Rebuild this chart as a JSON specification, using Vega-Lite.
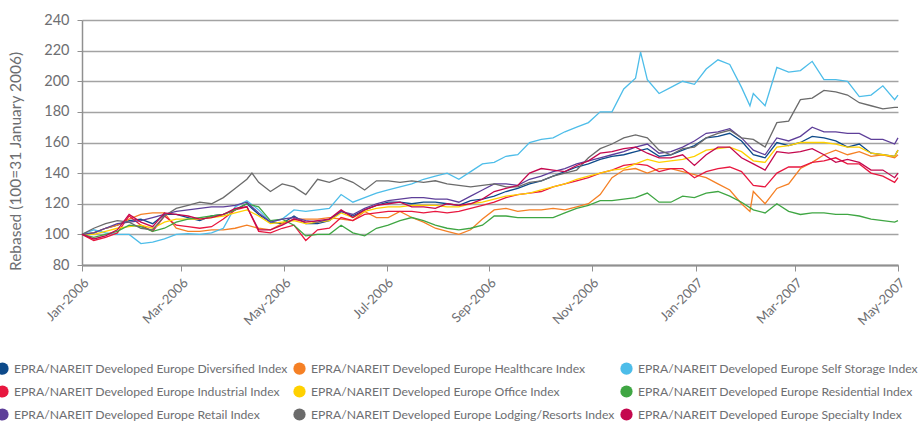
{
 "$schema": "https://vega.github.io/schema/vega-lite/v6.json",
 "width": 816, "height": 245,
 "autosize": {"type": "none"},
 "padding": {"left": 82, "top": 20, "right": 22, "bottom": 162},
 "background": "white",
 "config": {"view": {"stroke": null}, "font": "Lato"},
 "data": {"values": [
  {"d":"2006-01-31","Diversified":100,"Healthcare":100,"Self Storage":100,"Industrial":100,"Office":100,"Residential":100,"Retail":100,"Lodging/Resorts":100,"Specialty":100},
  {"d":"2006-02-07","Diversified":101,"Healthcare":101,"Self Storage":103,"Industrial":96,"Office":100,"Residential":98,"Retail":101,"Lodging/Resorts":104,"Specialty":97},
  {"d":"2006-02-14","Diversified":104,"Healthcare":104,"Self Storage":101,"Industrial":98,"Office":102,"Residential":100,"Retail":104,"Lodging/Resorts":107,"Specialty":99},
  {"d":"2006-02-21","Diversified":106,"Healthcare":106,"Self Storage":100,"Industrial":101,"Office":104,"Residential":102,"Retail":107,"Lodging/Resorts":109,"Specialty":103},
  {"d":"2006-02-28","Diversified":109,"Healthcare":110,"Self Storage":100,"Industrial":112,"Office":105,"Residential":106,"Retail":108,"Lodging/Resorts":108,"Specialty":113},
  {"d":"2006-03-07","Diversified":110,"Healthcare":113,"Self Storage":94,"Industrial":106,"Office":106,"Residential":105,"Retail":109,"Lodging/Resorts":104,"Specialty":108},
  {"d":"2006-03-14","Diversified":107,"Healthcare":114,"Self Storage":95,"Industrial":102,"Office":104,"Residential":102,"Retail":111,"Lodging/Resorts":103,"Specialty":105},
  {"d":"2006-03-21","Diversified":113,"Healthcare":114,"Self Storage":97,"Industrial":112,"Office":108,"Residential":104,"Retail":113,"Lodging/Resorts":112,"Specialty":114},
  {"d":"2006-03-28","Diversified":113,"Healthcare":104,"Self Storage":100,"Industrial":106,"Office":110,"Residential":108,"Retail":115,"Lodging/Resorts":117,"Specialty":113},
  {"d":"2006-04-04","Diversified":111,"Healthcare":102,"Self Storage":100.5,"Industrial":105,"Office":110,"Residential":110,"Retail":116,"Lodging/Resorts":119,"Specialty":112},
  {"d":"2006-04-11","Diversified":109,"Healthcare":102,"Self Storage":100,"Industrial":104,"Office":110,"Residential":111,"Retail":117,"Lodging/Resorts":121,"Specialty":110},
  {"d":"2006-04-18","Diversified":112,"Healthcare":103,"Self Storage":101,"Industrial":105,"Office":111,"Residential":112,"Retail":118,"Lodging/Resorts":120,"Specialty":111},
  {"d":"2006-04-25","Diversified":113,"Healthcare":103,"Self Storage":104,"Industrial":110,"Office":112,"Residential":113,"Retail":118,"Lodging/Resorts":124,"Specialty":113},
  {"d":"2006-05-02","Diversified":116,"Healthcare":104,"Self Storage":118,"Industrial":116,"Office":114,"Residential":116,"Retail":119,"Lodging/Resorts":130,"Specialty":117},
  {"d":"2006-05-09","Diversified":120,"Healthcare":106,"Self Storage":122,"Industrial":118,"Office":116,"Residential":120,"Retail":121,"Lodging/Resorts":136,"Specialty":118},
  {"d":"2006-05-12","Lodging/Resorts":140},
  {"d":"2006-05-16","Diversified":113,"Healthcare":104,"Self Storage":116,"Industrial":102,"Office":112,"Residential":118,"Retail":114,"Lodging/Resorts":134,"Specialty":103},
  {"d":"2006-05-23","Diversified":108,"Healthcare":103,"Self Storage":108,"Industrial":101,"Office":107,"Residential":109,"Retail":108,"Lodging/Resorts":128,"Specialty":103},
  {"d":"2006-05-30","Diversified":107,"Healthcare":107,"Self Storage":110,"Industrial":104,"Office":108,"Residential":110,"Retail":110,"Lodging/Resorts":133,"Specialty":106},
  {"d":"2006-06-06","Diversified":112,"Healthcare":110,"Self Storage":116,"Industrial":106,"Office":109,"Residential":106,"Retail":111,"Lodging/Resorts":131,"Specialty":110},
  {"d":"2006-06-13","Diversified":107,"Healthcare":110,"Self Storage":115,"Industrial":96,"Office":107,"Residential":99,"Retail":109,"Lodging/Resorts":126,"Specialty":108},
  {"d":"2006-06-20","Diversified":107,"Healthcare":110,"Self Storage":116,"Industrial":103,"Office":108,"Residential":100,"Retail":108,"Lodging/Resorts":136,"Specialty":109},
  {"d":"2006-06-27","Diversified":109,"Healthcare":111,"Self Storage":117,"Industrial":104,"Office":109,"Residential":100,"Retail":110,"Lodging/Resorts":134,"Specialty":110},
  {"d":"2006-07-04","Diversified":115,"Healthcare":110,"Self Storage":126,"Industrial":111,"Office":114,"Residential":106,"Retail":115,"Lodging/Resorts":137,"Specialty":116},
  {"d":"2006-07-11","Diversified":112,"Healthcare":109,"Self Storage":121,"Industrial":109,"Office":111,"Residential":101,"Retail":113,"Lodging/Resorts":134,"Specialty":111},
  {"d":"2006-07-18","Diversified":116,"Healthcare":115,"Self Storage":124,"Industrial":113,"Office":115,"Residential":99,"Retail":117,"Lodging/Resorts":129,"Specialty":116},
  {"d":"2006-07-25","Diversified":119,"Healthcare":111,"Self Storage":127,"Industrial":114,"Office":117,"Residential":104,"Retail":120,"Lodging/Resorts":135,"Specialty":119},
  {"d":"2006-08-01","Diversified":121,"Healthcare":111,"Self Storage":129,"Industrial":115,"Office":118,"Residential":106,"Retail":122,"Lodging/Resorts":135,"Specialty":120},
  {"d":"2006-08-08","Diversified":121,"Healthcare":115,"Self Storage":131,"Industrial":115,"Office":118,"Residential":109,"Retail":123,"Lodging/Resorts":134,"Specialty":121},
  {"d":"2006-08-15","Diversified":120,"Healthcare":111,"Self Storage":133,"Industrial":115,"Office":119,"Residential":111,"Retail":124,"Lodging/Resorts":135,"Specialty":118},
  {"d":"2006-08-22","Diversified":121,"Healthcare":108,"Self Storage":136,"Industrial":114,"Office":119,"Residential":109,"Retail":124,"Lodging/Resorts":134,"Specialty":118},
  {"d":"2006-08-29","Diversified":121,"Healthcare":104,"Self Storage":138,"Industrial":115,"Office":119,"Residential":106,"Retail":123,"Lodging/Resorts":135,"Specialty":117},
  {"d":"2006-09-05","Diversified":120,"Healthcare":102,"Self Storage":140,"Industrial":114,"Office":118,"Residential":104,"Retail":123,"Lodging/Resorts":133,"Specialty":120},
  {"d":"2006-09-12","Diversified":119,"Healthcare":100,"Self Storage":136,"Industrial":115,"Office":118,"Residential":103,"Retail":121,"Lodging/Resorts":132,"Specialty":119},
  {"d":"2006-09-19","Diversified":122,"Healthcare":103,"Self Storage":141,"Industrial":117,"Office":120,"Residential":104,"Retail":125,"Lodging/Resorts":131,"Specialty":120},
  {"d":"2006-09-26","Diversified":123,"Healthcare":110,"Self Storage":146,"Industrial":119,"Office":121,"Residential":106,"Retail":129,"Lodging/Resorts":132,"Specialty":123},
  {"d":"2006-10-03","Diversified":125,"Healthcare":116,"Self Storage":147,"Industrial":121,"Office":123,"Residential":112,"Retail":133,"Lodging/Resorts":133,"Specialty":128},
  {"d":"2006-10-10","Diversified":128,"Healthcare":117,"Self Storage":151,"Industrial":124,"Office":125,"Residential":112,"Retail":133,"Lodging/Resorts":131,"Specialty":130},
  {"d":"2006-10-17","Diversified":130,"Healthcare":115,"Self Storage":152,"Industrial":126,"Office":126,"Residential":111,"Retail":132,"Lodging/Resorts":131,"Specialty":132},
  {"d":"2006-10-24","Diversified":133,"Healthcare":116,"Self Storage":160,"Industrial":127,"Office":127,"Residential":111,"Retail":136,"Lodging/Resorts":134,"Specialty":140},
  {"d":"2006-10-31","Diversified":135,"Healthcare":116,"Self Storage":162,"Industrial":128,"Office":129,"Residential":111,"Retail":138,"Lodging/Resorts":135,"Specialty":143},
  {"d":"2006-11-07","Diversified":138,"Healthcare":117,"Self Storage":163,"Industrial":131,"Office":131,"Residential":111,"Retail":141,"Lodging/Resorts":138,"Specialty":142},
  {"d":"2006-11-14","Diversified":141,"Healthcare":116,"Self Storage":167,"Industrial":133,"Office":133,"Residential":114,"Retail":143,"Lodging/Resorts":140,"Specialty":141},
  {"d":"2006-11-21","Diversified":144,"Healthcare":118,"Self Storage":170,"Industrial":135,"Office":136,"Residential":117,"Retail":146,"Lodging/Resorts":142,"Specialty":145},
  {"d":"2006-11-28","Diversified":146,"Healthcare":120,"Self Storage":173,"Industrial":137,"Office":138,"Residential":119,"Retail":148,"Lodging/Resorts":150,"Specialty":148},
  {"d":"2006-12-05","Diversified":149,"Healthcare":126,"Self Storage":180,"Industrial":140,"Office":140,"Residential":122,"Retail":150,"Lodging/Resorts":156,"Specialty":153},
  {"d":"2006-12-12","Diversified":151,"Healthcare":137,"Self Storage":180,"Industrial":142,"Office":142,"Residential":122,"Retail":152,"Lodging/Resorts":159,"Specialty":154},
  {"d":"2006-12-19","Diversified":152,"Healthcare":142,"Self Storage":195,"Industrial":145,"Office":143,"Residential":123,"Retail":154,"Lodging/Resorts":163,"Specialty":156},
  {"d":"2006-12-26","Diversified":154,"Healthcare":143,"Self Storage":202,"Industrial":146,"Office":146,"Residential":124,"Retail":157,"Lodging/Resorts":165,"Specialty":157},
  {"d":"2006-12-29","Self Storage":219},
  {"d":"2007-01-02","Diversified":156,"Healthcare":140,"Self Storage":201,"Industrial":145,"Office":149,"Residential":127,"Retail":159,"Lodging/Resorts":163,"Specialty":153},
  {"d":"2007-01-09","Diversified":151,"Healthcare":143,"Self Storage":192,"Industrial":141,"Office":147,"Residential":121,"Retail":153,"Lodging/Resorts":155,"Specialty":150},
  {"d":"2007-01-16","Diversified":152,"Healthcare":143,"Self Storage":196,"Industrial":143,"Office":148,"Residential":121,"Retail":154,"Lodging/Resorts":152,"Specialty":150},
  {"d":"2007-01-23","Diversified":155,"Healthcare":141,"Self Storage":200,"Industrial":143,"Office":149,"Residential":125,"Retail":157,"Lodging/Resorts":156,"Specialty":152},
  {"d":"2007-01-30","Diversified":158,"Healthcare":139,"Self Storage":198,"Industrial":137,"Office":151,"Residential":124,"Retail":161,"Lodging/Resorts":157,"Specialty":145},
  {"d":"2007-02-06","Diversified":163,"Healthcare":137,"Self Storage":208,"Industrial":141,"Office":155,"Residential":127,"Retail":166,"Lodging/Resorts":163,"Specialty":152},
  {"d":"2007-02-13","Diversified":164,"Healthcare":133,"Self Storage":214,"Industrial":143,"Office":156,"Residential":128,"Retail":167,"Lodging/Resorts":166,"Specialty":157},
  {"d":"2007-02-20","Diversified":166,"Healthcare":129,"Self Storage":211,"Industrial":144,"Office":157,"Residential":125,"Retail":169,"Lodging/Resorts":168,"Specialty":157},
  {"d":"2007-02-27","Diversified":161,"Healthcare":120,"Self Storage":196,"Industrial":141,"Office":154,"Residential":121,"Retail":163,"Lodging/Resorts":163,"Specialty":150},
  {"d":"2007-03-04","Healthcare":115,"Self Storage":184},
  {"d":"2007-03-06","Diversified":152,"Healthcare":128,"Self Storage":192,"Industrial":132,"Office":148,"Residential":116,"Retail":155,"Lodging/Resorts":162,"Specialty":146},
  {"d":"2007-03-13","Diversified":150,"Healthcare":120,"Self Storage":184,"Industrial":131,"Office":147,"Residential":114,"Retail":152,"Lodging/Resorts":157,"Specialty":142},
  {"d":"2007-03-20","Diversified":160,"Healthcare":130,"Self Storage":209,"Industrial":140,"Office":157,"Residential":120,"Retail":163,"Lodging/Resorts":173,"Specialty":154},
  {"d":"2007-03-27","Diversified":158,"Healthcare":133,"Self Storage":206,"Industrial":144,"Office":158,"Residential":115,"Retail":161,"Lodging/Resorts":174,"Specialty":153},
  {"d":"2007-04-03","Diversified":160,"Healthcare":143,"Self Storage":207,"Industrial":144,"Office":160,"Residential":113,"Retail":164,"Lodging/Resorts":188,"Specialty":154},
  {"d":"2007-04-10","Diversified":164,"Healthcare":147,"Self Storage":213,"Industrial":147,"Office":160,"Residential":114,"Retail":170,"Lodging/Resorts":189,"Specialty":156},
  {"d":"2007-04-17","Diversified":163,"Healthcare":152,"Self Storage":201,"Industrial":148,"Office":160,"Residential":114,"Retail":167,"Lodging/Resorts":194,"Specialty":152},
  {"d":"2007-04-24","Diversified":161,"Healthcare":155,"Self Storage":201,"Industrial":150,"Office":159,"Residential":113,"Retail":167,"Lodging/Resorts":193,"Specialty":147},
  {"d":"2007-05-01","Diversified":157,"Healthcare":152,"Self Storage":200,"Industrial":146,"Office":157,"Residential":113,"Retail":166,"Lodging/Resorts":191,"Specialty":149},
  {"d":"2007-05-08","Diversified":159,"Healthcare":154,"Self Storage":190,"Industrial":146,"Office":157,"Residential":112,"Retail":166,"Lodging/Resorts":186,"Specialty":147},
  {"d":"2007-05-15","Diversified":153,"Healthcare":151,"Self Storage":191,"Industrial":140,"Office":153,"Residential":110,"Retail":162,"Lodging/Resorts":184,"Specialty":142},
  {"d":"2007-05-22","Diversified":152,"Healthcare":152,"Self Storage":197,"Industrial":138,"Office":152,"Residential":109,"Retail":162,"Lodging/Resorts":182,"Specialty":142},
  {"d":"2007-05-29","Diversified":151,"Healthcare":150,"Self Storage":188,"Industrial":134,"Office":151,"Residential":108,"Retail":159,"Lodging/Resorts":183,"Specialty":137},
  {"d":"2007-05-31","Diversified":155,"Healthcare":152,"Self Storage":191,"Industrial":137,"Office":155,"Residential":109,"Retail":163,"Lodging/Resorts":183,"Specialty":140}
 ]},
 "transform": [
  {"fold": ["Diversified","Healthcare","Self Storage","Industrial","Office","Residential","Retail","Lodging/Resorts","Specialty"], "as": ["s","v"]},
  {"filter": "isValid(datum.v)"}
 ],
 "mark": {"type": "line", "strokeWidth": 1.3},
 "encoding": {
  "x": {"field": "d", "type": "temporal",
   "scale": {"type": "utc", "domain": [{"year":2006,"month":1,"date":31,"utc":true},{"year":2007,"month":5,"date":31,"utc":true}]},
   "axis": {"values": [
     {"year":2006,"month":1,"date":31,"utc":true},{"year":2006,"month":3,"date":31,"utc":true},{"year":2006,"month":5,"date":31,"utc":true},
     {"year":2006,"month":7,"date":31,"utc":true},{"year":2006,"month":9,"date":30,"utc":true},{"year":2006,"month":11,"date":30,"utc":true},
     {"year":2007,"month":1,"date":31,"utc":true},{"year":2007,"month":3,"date":31,"utc":true},{"year":2007,"month":5,"date":31,"utc":true}],
    "labelExpr": "utcFormat(datum.value, '%b-%Y')",
    "grid": false, "domainColor": "#909090", "domainWidth": 2, "tickColor": "#909090", "tickSize": 6, "tickWidth": 1,
    "labelAngle": -45, "labelFontSize": 13, "labelColor": "#6d6e71", "labelPadding": 5, "title": null, "labelBound": false, "labelOverlap": false, "labelFlush": false}},
  "y": {"field": "v", "type": "quantitative",
   "scale": {"domain": [80, 240], "nice": false, "zero": false},
   "axis": {"values": [80,100,120,140,160,180,200,220,240], "grid": true, "gridColor": "#a3a3a3", "gridWidth": 1.5,
    "domainColor": "#909090", "domainWidth": 1.5, "tickColor": "#909090", "tickSize": 5,
    "labelFontSize": 14.5, "labelColor": "#6d6e71", "labelPadding": 8,
    "title": "Rebased (100=31 January 2006)", "titleFontSize": 15.5, "titleFontWeight": "normal", "titleColor": "#6d6e71",
    "titleAngle": 270, "titleX": -67, "titleY": 141, "titleAlign": "center", "titleBaseline": "middle"}},
  "color": {"field": "s", "type": "nominal",
   "scale": {"domain": ["Diversified","Industrial","Retail","Healthcare","Office","Lodging/Resorts","Self Storage","Residential","Specialty"],
    "range": ["#0d4a8a","#e8173f","#5e3f99","#f58025","#ffd100","#6b6b6b","#4dbde9","#3fa643","#c4084e"]},
   "legend": {"orient": "none", "legendX": -86, "legendY": 342, "columns": 3, "title": null,
    "symbolType": "circle", "symbolSize": 150, "symbolStrokeWidth": 0, "labelOffset": 5,
    "labelFontSize": 12.2, "labelColor": "#6d6e71", "labelLimit": 500, "columnPadding": 5, "rowPadding": 10,
    "labelExpr": "'EPRA/NAREIT Developed Europe ' + datum.label + ' Index'",
    "encode": {"symbols": {"update": {"fill": {"scale": "color", "field": "value"}, "fillOpacity": {"value": 1}}}}}}
 }
}
